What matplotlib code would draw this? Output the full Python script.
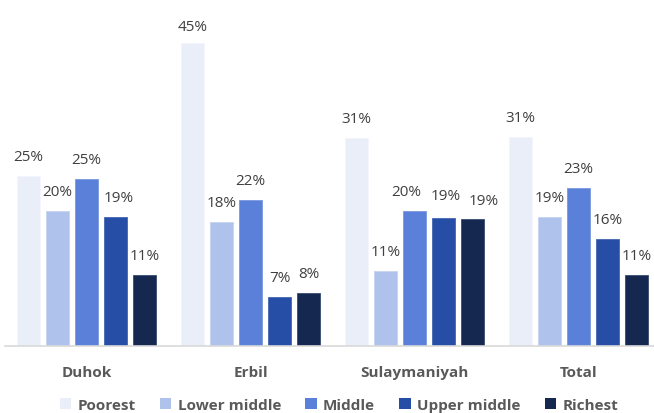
import matplotlib
matplotlib.use("Agg")
import matplotlib.pyplot as plt
import numpy as np
from matplotlib.patches import Patch

regions = ["Duhok", "Erbil", "Sulaymaniyah", "Total"]
series = ["Poorest", "Lower middle", "Middle", "Upper middle", "Richest"]
poorest = [25.2, 45.0, 30.8, 31.0]
lower_middle = [20.1, 18.4, 11.1, 19.2]
middle = [24.8, 21.7, 20.0, 23.4]
upper_middle = [19.1, 7.2, 19.0, 15.9]
richest = [10.6, 7.9, 18.9, 10.6]
values = [poorest, lower_middle, middle, upper_middle, richest]
colors = ["#E9EEF9", "#AFC2EB", "#5B80DA", "#264EA6", "#15284F"]
edges = ["#F2F5FC", "#C6D4F1", "#7A98E0", "#4466B3", "#3A4B70"]

# manual label nudges in pixels (series index, region index) -> (dx, dy)
nudges = {(2, 2): (-8, 0), (3, 2): (2.6, 2.7), (4, 2): (10.7, -1.7),
          (3, 0): (3, 0), (0, 1): (0, -3)}

plt.rcParams["font.family"] = ["Open Sans", "DejaVu Sans"]

W, H = 654, 414
PT = 0.72  # points per pixel at dpi 100
fig = plt.figure(figsize=(W / 100, H / 100), dpi=100)
ax = fig.add_axes([4.6 / W, 67 / H, 656 / W, 347 / H])

x = np.arange(len(regions))
pitch = 29 / 164
bw = 22.7 / 164
for i, (name, vals) in enumerate(zip(series, values)):
    pos = x + (i - 2) * pitch
    bars = ax.bar(pos, vals, width=bw, color=colors[i], edgecolor=edges[i],
                  linewidth=0.6, label=name, zorder=2)
    for j, (b, v) in enumerate(zip(bars, vals)):
        dx, dy = nudges.get((i, j), (0, 0))
        ax.annotate(f"{v:.0f}%", (b.get_x() + b.get_width() / 2, v),
                    xytext=(dx * PT, (16 + dy) * PT), textcoords="offset points",
                    ha="center", va="baseline", fontsize=11, color="#404040")

ax.set_xlim(-0.5, 3.5)
ax.set_ylim(0, 51.5)
ax.set_yticks([])
ax.set_xticks(x)
ax.set_xticklabels(regions, fontsize=11, fontweight="bold", color="#595959")
ax.tick_params(axis="x", length=0, pad=14)
for s in ["top", "right", "left"]:
    ax.spines[s].set_visible(False)
ax.spines["bottom"].set_color("#D9D9D9")
ax.spines["bottom"].set_linewidth(1.2)

handles = [Patch(facecolor=c, edgecolor="none") for c in colors]
leg = fig.legend(handles, series, loc="center", bbox_to_anchor=(339 / W, 1 - 406 / H),
                 ncol=5, frameon=False, handlelength=0.75, handleheight=0.75,
                 handletextpad=0.4, columnspacing=1.6,
                 prop={"size": 11, "weight": "bold"})
for t in leg.get_texts():
    t.set_color("#595959")

fig.savefig("out.png", dpi=100)
